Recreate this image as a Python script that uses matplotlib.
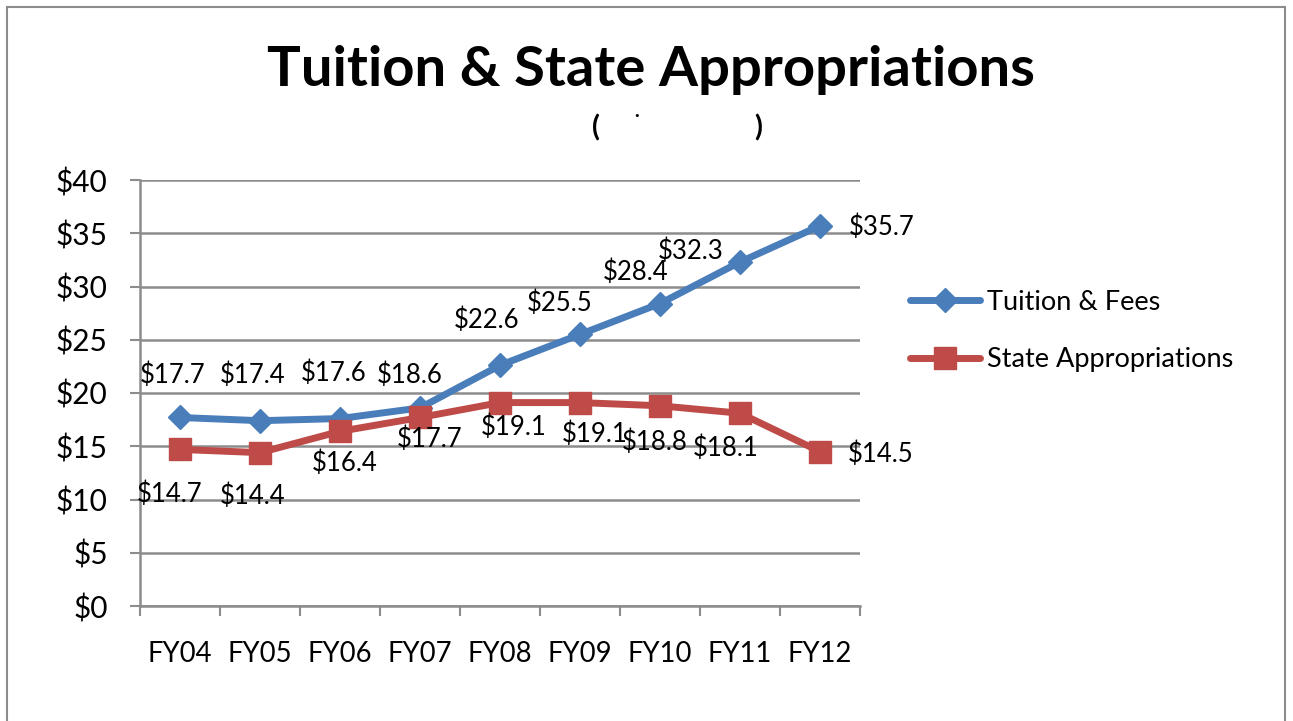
import matplotlib
matplotlib.use("Agg")
import matplotlib.pyplot as plt
from matplotlib.patches import Rectangle
import numpy as np

# data
years = ["FY04", "FY05", "FY06", "FY07", "FY08", "FY09", "FY10", "FY11", "FY12"]
tuition = [17.7, 17.4, 17.6, 18.6, 22.6, 25.5, 28.4, 32.3, 35.7]
state = [14.7, 14.4, 16.4, 17.7, 19.1, 19.1, 18.8, 18.1, 14.5]
yticks = [0, 5, 10, 15, 20, 25, 30, 35, 40]

BLUE = "#4A7EBB"
RED = "#BE4B48"
GRID = "#8C8C8C"

# label offsets in pixels (dx, dy) relative to each point
tu_off = [(-7, 42), (-7, 45), (-6, 45), (-10, 33), (-13, 45), (-20, 31), (-24, 31), (-49, 11), (62, -1)]
st_off = [(-10, -45), (-7, -44), (5, -32), (10, -22), (14, -25), (15, -32), (-5, -36), (-14, -35), (61, -3)]

plt.rcParams["font.family"] = ["Lato", "DejaVu Sans"]

fig = plt.figure(figsize=(12.93, 7.21), dpi=100)
W, H = 1293, 721
fig.patches.append(Rectangle((7 / W, -0.1), (1285 - 7) / W, (721 - 7) / H + 0.1,
                             transform=fig.transFigure, fill=False,
                             edgecolor="#8C8C8C", linewidth=1.5))

ax = fig.add_axes([140 / W, 1 - 606 / H, 720 / W, 426 / H])
x = np.arange(len(years))

ax.plot(x, tuition, color=BLUE, lw=5, marker="D", ms=12, mec=BLUE,
        label="Tuition & Fees", solid_capstyle="round", zorder=3)
ax.plot(x, state, color=RED, lw=5, marker="s", ms=16, mec=RED,
        label="State Appropriations", solid_capstyle="round", zorder=3)

for xi, v, (dx, dy) in zip(x, tuition, tu_off):
    ax.annotate(f"${v:.1f}", (xi, v), xytext=(dx, dy), textcoords="offset pixels",
                ha="center", va="center", fontsize=18.5, zorder=4)
for xi, v, (dx, dy) in zip(x, state, st_off):
    ax.annotate(f"${v:.1f}", (xi, v), xytext=(dx, dy), textcoords="offset pixels",
                ha="center", va="center", fontsize=18.5, zorder=4)

ax.set_xlim(-0.5, len(years) - 0.5)
ax.set_ylim(0, 40)
ax.set_yticks(yticks)
ax.set_yticklabels([f"${t}" for t in yticks], fontsize=21.5)
ax.set_xticks(x)
ax.set_xticklabels(years, fontsize=19.8)
ax.set_xticks(np.arange(len(years) + 1) - 0.5, minor=True)
ax.tick_params(axis="x", which="major", length=0, pad=25)
ax.tick_params(axis="x", which="minor", length=7, width=1.5, color=GRID, direction="out")
ax.tick_params(axis="y", length=7.2, width=1.5, color=GRID, direction="out", pad=16)
ax.grid(axis="y", color=GRID, lw=1.8)
ax.set_axisbelow(True)
for s in ["top", "right"]:
    ax.spines[s].set_visible(False)
for s in ["left", "bottom"]:
    ax.spines[s].set_color(GRID)
    ax.spines[s].set_linewidth(1.8)

fig.text(651 / W, 1 - 70 / H, "Tuition & State Appropriations", ha="center", va="center",
         fontsize=40.5, fontweight="bold")
fig.text(596 / W, 1 - 128 / H, "(", ha="center", va="center", fontsize=21, fontweight="bold")
fig.text(637 / W, 1 - 116 / H, "·", ha="center", va="center", fontsize=12, fontweight="bold")
fig.text(758 / W, 1 - 128 / H, ")", ha="center", va="center", fontsize=21, fontweight="bold")

fig.legend(loc="center left", bbox_to_anchor=(910 / W, 1 - 331 / H), frameon=False,
           fontsize=19.5, handlelength=2.6, labelspacing=1.2, handletextpad=0.26,
           borderpad=0, borderaxespad=0)

fig.savefig("out.png", dpi=100)
